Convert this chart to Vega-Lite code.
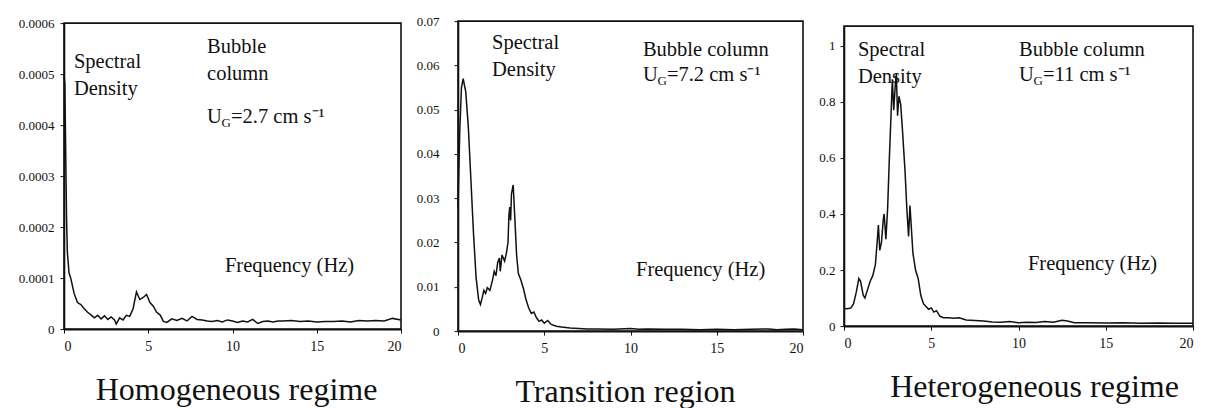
{
  "$schema": "https://vega.github.io/schema/vega-lite/v6.json",
  "padding": {"left": 17, "top": 14, "right": 5, "bottom": 0},
  "background": "white",
  "config": {
    "font": "Liberation Serif",
    "view": {"stroke": "#111", "strokeWidth": 1.6},
    "axis": {
      "grid": false, "domainColor": "#111", "domainWidth": 1.6, "tickColor": "#111", "tickSize": 4,
      "labelFont": "Liberation Serif", "labelColor": "#111", "titleFont": "Liberation Serif", "titleColor": "#111",
      "titleFontWeight": "normal"
    },
    "text": {"font": "Liberation Serif", "color": "#111"}
  },
  "datasets": {
    "s1": [
      {"f":0,"v":0.0005},{"f":0.05,"v":0.00048},{"f":0.1,"v":0.00035},{"f":0.15,"v":0.00022},{"f":0.2,"v":0.00015},
      {"f":0.3,"v":0.00011},{"f":0.4,"v":0.0001},{"f":0.6,"v":0.00007},{"f":0.8,"v":0.000052},{"f":1.0,"v":0.000048},
      {"f":1.2,"v":0.00004},{"f":1.4,"v":0.000033},{"f":1.6,"v":0.000028},{"f":1.8,"v":0.000022},{"f":2.0,"v":0.000027},
      {"f":2.2,"v":0.00002},{"f":2.4,"v":0.000026},{"f":2.6,"v":0.000019},{"f":2.8,"v":0.000024},{"f":3.0,"v":0.000018},
      {"f":3.1,"v":0.00001},{"f":3.3,"v":0.000022},{"f":3.5,"v":0.000018},{"f":3.7,"v":0.000027},{"f":3.9,"v":0.000025},
      {"f":4.1,"v":0.00004},{"f":4.3,"v":0.000073},{"f":4.5,"v":0.000058},{"f":4.7,"v":0.000062},{"f":4.9,"v":0.000068},
      {"f":5.1,"v":0.000052},{"f":5.3,"v":0.000045},{"f":5.5,"v":0.000033},{"f":5.7,"v":0.000028},{"f":5.9,"v":0.000015},
      {"f":6.1,"v":0.000013},{"f":6.4,"v":0.00002},{"f":6.7,"v":0.000017},{"f":7.0,"v":0.000021},{"f":7.3,"v":0.000016},
      {"f":7.6,"v":0.000025},{"f":7.9,"v":0.000019},{"f":8.2,"v":0.000018},{"f":8.5,"v":0.000016},{"f":8.8,"v":0.000015},
      {"f":9.1,"v":0.000017},{"f":9.4,"v":0.000014},{"f":9.7,"v":0.000018},{"f":10.0,"v":0.000016},{"f":10.3,"v":0.000013},
      {"f":10.6,"v":0.000016},{"f":10.9,"v":0.000014},{"f":11.2,"v":0.000019},{"f":11.5,"v":0.000011},{"f":11.8,"v":0.000015},
      {"f":12.1,"v":0.000016},{"f":12.4,"v":0.000014},{"f":12.7,"v":0.000016},{"f":13.0,"v":0.000016},{"f":13.5,"v":0.000017},
      {"f":14.0,"v":0.000015},{"f":14.5,"v":0.000016},{"f":15.0,"v":0.000014},{"f":15.5,"v":0.000015},{"f":16.0,"v":0.000015},
      {"f":16.5,"v":0.000016},{"f":17.0,"v":0.000014},{"f":17.5,"v":0.000017},{"f":18.0,"v":0.000016},{"f":18.5,"v":0.000017},
      {"f":19.0,"v":0.000016},{"f":19.5,"v":0.000021},{"f":20.0,"v":0.000018}
    ],
    "s2": [
      {"f":0,"v":0.028},{"f":0.1,"v":0.045},{"f":0.2,"v":0.055},{"f":0.3,"v":0.057},{"f":0.45,"v":0.054},
      {"f":0.6,"v":0.046},{"f":0.75,"v":0.034},{"f":0.9,"v":0.022},{"f":1.05,"v":0.012},{"f":1.2,"v":0.007},
      {"f":1.3,"v":0.006},{"f":1.4,"v":0.0075},{"f":1.5,"v":0.0092},{"f":1.6,"v":0.0085},{"f":1.7,"v":0.0098},
      {"f":1.85,"v":0.0092},{"f":2.0,"v":0.0115},{"f":2.1,"v":0.0135},{"f":2.2,"v":0.0125},{"f":2.3,"v":0.0155},
      {"f":2.4,"v":0.0165},{"f":2.45,"v":0.0135},{"f":2.55,"v":0.0172},{"f":2.7,"v":0.0158},{"f":2.8,"v":0.0175},
      {"f":2.9,"v":0.02},{"f":2.95,"v":0.026},{"f":3.0,"v":0.028},{"f":3.05,"v":0.025},{"f":3.1,"v":0.031},
      {"f":3.2,"v":0.033},{"f":3.3,"v":0.025},{"f":3.4,"v":0.017},{"f":3.5,"v":0.013},{"f":3.65,"v":0.0115},
      {"f":3.8,"v":0.0095},{"f":3.95,"v":0.007},{"f":4.1,"v":0.0052},{"f":4.25,"v":0.004},{"f":4.4,"v":0.0043},
      {"f":4.55,"v":0.003},{"f":4.7,"v":0.0022},{"f":4.85,"v":0.0025},{"f":5.0,"v":0.0018},{"f":5.2,"v":0.0024},
      {"f":5.4,"v":0.0015},{"f":5.7,"v":0.0011},{"f":6.0,"v":0.0009},{"f":6.5,"v":0.0007},{"f":7.0,"v":0.0006},
      {"f":7.5,"v":0.0005},{"f":8,"v":0.0005},{"f":9,"v":0.0004},{"f":10,"v":0.0006},{"f":10.5,"v":0.0004},
      {"f":11,"v":0.0005},{"f":12,"v":0.0004},{"f":13,"v":0.0004},{"f":14,"v":0.0003},{"f":15,"v":0.0004},
      {"f":16,"v":0.0003},{"f":17,"v":0.0004},{"f":18,"v":0.0005},{"f":18.5,"v":0.0003},{"f":19,"v":0.0004},
      {"f":19.5,"v":0.0005},{"f":20,"v":0.0003}
    ],
    "s3": [
      {"f":0,"v":0.063},{"f":0.2,"v":0.062},{"f":0.4,"v":0.065},{"f":0.55,"v":0.08},{"f":0.7,"v":0.12},
      {"f":0.85,"v":0.17},{"f":0.95,"v":0.16},{"f":1.1,"v":0.11},{"f":1.2,"v":0.1},{"f":1.35,"v":0.13},
      {"f":1.5,"v":0.16},{"f":1.65,"v":0.18},{"f":1.8,"v":0.22},{"f":1.9,"v":0.3},{"f":1.97,"v":0.36},
      {"f":2.05,"v":0.27},{"f":2.15,"v":0.3},{"f":2.25,"v":0.38},{"f":2.3,"v":0.4},{"f":2.4,"v":0.31},
      {"f":2.5,"v":0.42},{"f":2.6,"v":0.6},{"f":2.7,"v":0.76},{"f":2.77,"v":0.88},{"f":2.85,"v":0.77},
      {"f":2.95,"v":0.87},{"f":3.0,"v":0.9},{"f":3.07,"v":0.75},{"f":3.15,"v":0.82},{"f":3.25,"v":0.79},
      {"f":3.35,"v":0.7},{"f":3.5,"v":0.55},{"f":3.6,"v":0.42},{"f":3.7,"v":0.32},{"f":3.78,"v":0.43},
      {"f":3.85,"v":0.36},{"f":3.95,"v":0.26},{"f":4.1,"v":0.2},{"f":4.25,"v":0.17},{"f":4.4,"v":0.11},
      {"f":4.55,"v":0.08},{"f":4.7,"v":0.07},{"f":4.85,"v":0.06},{"f":5.0,"v":0.065},{"f":5.15,"v":0.05},
      {"f":5.3,"v":0.055},{"f":5.5,"v":0.035},{"f":5.7,"v":0.03},{"f":6.0,"v":0.03},{"f":6.3,"v":0.028},
      {"f":6.6,"v":0.03},{"f":7.0,"v":0.022},{"f":7.5,"v":0.02},{"f":8.0,"v":0.018},{"f":8.5,"v":0.015},
      {"f":9.0,"v":0.014},{"f":9.5,"v":0.016},{"f":10.0,"v":0.012},{"f":10.5,"v":0.014},{"f":11.0,"v":0.013},
      {"f":11.5,"v":0.016},{"f":12.0,"v":0.014},{"f":12.5,"v":0.021},{"f":12.8,"v":0.018},{"f":13.2,"v":0.012},
      {"f":14.0,"v":0.012},{"f":15.0,"v":0.011},{"f":16.0,"v":0.012},{"f":17.0,"v":0.01},{"f":18.0,"v":0.011},
      {"f":19.0,"v":0.01},{"f":20.0,"v":0.01}
    ],
    "a1": [
      {"f":0.59,"v":0.000512,"t":"Spectral\nDensity"},
      {"f":8.49,"v":0.000541,"t":"Bubble\ncolumn"},
      {"f":9.55,"v":0.000112,"t":"Frequency (Hz)"}
    ],
    "u1": [{"f":8.49,"v":0.000404,"u":"U","g":"G","rest":"=2.7 cm s⁻¹"}],
    "a2": [
      {"f":1.97,"v":0.0637,"t":"Spectral\nDensity"},
      {"f":10.72,"v":0.0621,"t":"Bubble column"},
      {"f":10.32,"v":0.01242,"t":"Frequency (Hz)"}
    ],
    "u2": [{"f":10.72,"v":0.05645,"u":"U","g":"G","rest":"=7.2 cm s⁻¹"}],
    "a3": [
      {"f":0.8,"v":0.964,"t":"Spectral\nDensity"},
      {"f":10.03,"v":0.964,"t":"Bubble column"},
      {"f":10.54,"v":0.2,"t":"Frequency (Hz)"}
    ],
    "u3": [{"f":10.03,"v":0.875,"u":"U","g":"G","rest":"=11 cm s⁻¹"}]
  },
  "hconcat": [
    {
      "width": 337, "height": 306,
      "encoding": {
        "x": {"field": "f", "type": "quantitative", "scale": {"domain": [0, 20], "nice": false},
          "axis": {"values": [0, 5, 10, 15, 20], "labelFont": "Liberation Serif", "labelFontSize": 14, "labelPadding": 6, "title": "Homogeneous regime", "titleFont": "Liberation Serif", "titleFontSize": 32, "titlePadding": 21, "titleX": 172}},
        "y": {"field": "v", "type": "quantitative", "scale": {"domain": [0, 0.0006], "nice": false},
          "axis": {"values": [0, 0.0001, 0.0002, 0.0003, 0.0004, 0.0005, 0.0006], "format": "~g", "labelFont": "Liberation Serif", "labelFontSize": 13, "labelPadding": 6, "title": null}}
      },
      "layer": [
        {"data": {"name": "s1"}, "mark": {"type": "line", "color": "#111", "strokeWidth": 1.5}},
        {"data": {"name": "a1"}, "mark": {"type": "text", "font": "Liberation Serif", "align": "left", "baseline": "alphabetic", "fontSize": 20.5, "lineBreak": "\n", "lineHeight": 27}, "encoding": {"text": {"field": "t"}}},
        {"data": {"name": "u1"}, "mark": {"type": "text", "font": "Liberation Serif", "align": "left", "baseline": "alphabetic", "fontSize": 20.5}, "encoding": {"text": {"field": "u"}}},
        {"data": {"name": "u1"}, "mark": {"type": "text", "font": "Liberation Serif", "align": "left", "baseline": "alphabetic", "fontSize": 13, "dx": 14.5, "dy": 4}, "encoding": {"text": {"field": "g"}}},
        {"data": {"name": "u1"}, "mark": {"type": "text", "font": "Liberation Serif", "align": "left", "baseline": "alphabetic", "fontSize": 20.5, "dx": 24}, "encoding": {"text": {"field": "rest"}}}
      ]
    },
    {
      "width": 345, "height": 310,
      "encoding": {
        "x": {"field": "f", "type": "quantitative", "scale": {"domain": [0, 20], "nice": false},
          "axis": {"values": [0, 5, 10, 15, 20], "labelFont": "Liberation Serif", "labelFontSize": 14, "labelPadding": 6, "title": "Transition region", "titleFont": "Liberation Serif", "titleFontSize": 32, "titlePadding": 21, "titleX": 167}},
        "y": {"field": "v", "type": "quantitative", "scale": {"domain": [0, 0.07], "nice": false},
          "axis": {"values": [0, 0.01, 0.02, 0.03, 0.04, 0.05, 0.06, 0.07], "format": "~g", "labelFont": "Liberation Serif", "labelFontSize": 13, "labelPadding": 15, "title": null}}
      },
      "layer": [
        {"data": {"name": "s2"}, "mark": {"type": "line", "color": "#111", "strokeWidth": 1.5}},
        {"data": {"name": "a2"}, "mark": {"type": "text", "font": "Liberation Serif", "align": "left", "baseline": "alphabetic", "fontSize": 20.5, "lineBreak": "\n", "lineHeight": 27}, "encoding": {"text": {"field": "t"}}},
        {"data": {"name": "u2"}, "mark": {"type": "text", "font": "Liberation Serif", "align": "left", "baseline": "alphabetic", "fontSize": 20.5}, "encoding": {"text": {"field": "u"}}},
        {"data": {"name": "u2"}, "mark": {"type": "text", "font": "Liberation Serif", "align": "left", "baseline": "alphabetic", "fontSize": 13, "dx": 14.5, "dy": 4}, "encoding": {"text": {"field": "g"}}},
        {"data": {"name": "u2"}, "mark": {"type": "text", "font": "Liberation Serif", "align": "left", "baseline": "alphabetic", "fontSize": 20.5, "dx": 24}, "encoding": {"text": {"field": "rest"}}}
      ]
    },
    {
      "width": 349, "height": 300,
      "encoding": {
        "x": {"field": "f", "type": "quantitative", "scale": {"domain": [0, 20], "nice": false},
          "axis": {"values": [0, 5, 10, 15, 20], "labelFont": "Liberation Serif", "labelFontSize": 14, "labelPadding": 6, "title": "Heterogeneous regime", "titleFont": "Liberation Serif", "titleFontSize": 32, "titlePadding": 21, "titleX": 190}},
        "y": {"field": "v", "type": "quantitative", "scale": {"domain": [0, 1.07], "nice": false},
          "axis": {"values": [0, 0.2, 0.4, 0.6, 0.8, 1], "format": "~g", "labelFont": "Liberation Serif", "labelFontSize": 13, "labelPadding": 5, "title": null}}
      },
      "layer": [
        {"data": {"name": "s3"}, "mark": {"type": "line", "color": "#111", "strokeWidth": 1.5}},
        {"data": {"name": "a3"}, "mark": {"type": "text", "font": "Liberation Serif", "align": "left", "baseline": "alphabetic", "fontSize": 20.5, "lineBreak": "\n", "lineHeight": 27}, "encoding": {"text": {"field": "t"}}},
        {"data": {"name": "u3"}, "mark": {"type": "text", "font": "Liberation Serif", "align": "left", "baseline": "alphabetic", "fontSize": 20.5}, "encoding": {"text": {"field": "u"}}},
        {"data": {"name": "u3"}, "mark": {"type": "text", "font": "Liberation Serif", "align": "left", "baseline": "alphabetic", "fontSize": 13, "dx": 14.5, "dy": 4}, "encoding": {"text": {"field": "g"}}},
        {"data": {"name": "u3"}, "mark": {"type": "text", "font": "Liberation Serif", "align": "left", "baseline": "alphabetic", "fontSize": 20.5, "dx": 24}, "encoding": {"text": {"field": "rest"}}}
      ]
    }
  ],
  "spacing": 10, "center": true
}
